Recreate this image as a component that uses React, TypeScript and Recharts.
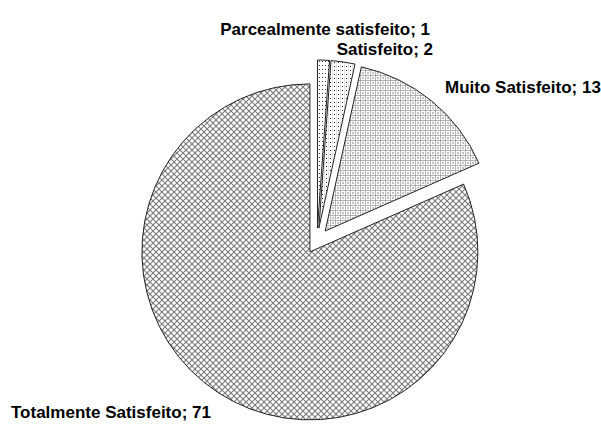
import { PieChart, Pie, Cell } from 'recharts';

const categories = ['Parcealmente satisfeito', 'Satisfeito', 'Muito Satisfeito', 'Totalmente Satisfeito'];
const values = [1, 2, 13, 71];

const patterns = ['dots', 'dotsGrid', 'grid', 'cross'];
const labelPos = [
  { x: 430, y: 35, anchor: 'end' },
  { x: 433, y: 55, anchor: 'end' },
  { x: 445, y: 93, anchor: 'start' },
  { x: 11, y: 418, anchor: 'start' },
];

const data = categories.map((name, i) => ({ name, value: values[i] }));
const total = values.reduce((a, b) => a + b, 0);

const CX = 317;
const CY = 241;
const R = 168;
const EXPLODE = 13;

// mid angle of each slice, clockwise from 12 o'clock, in radians
const midAngles = values.map((v, i) => {
  const before = values.slice(0, i).reduce((a, b) => a + b, 0);
  return ((before + v / 2) / total) * 2 * Math.PI;
});

const App = () => {
  return (
    <div style={{ position: 'absolute', left: 0, top: 0, background: '#fff' }}>
      <PieChart width={601} height={424} margin={{ top: 0, right: 0, bottom: 0, left: 0 }}>
        <defs>
          <pattern id="cross" width="6" height="6" patternUnits="userSpaceOnUse">
            <rect width="6" height="6" fill="#fff" />
            <path d="M0,0 L6,6 M6,0 L0,6" stroke="#7a7a7a" strokeWidth="1.1" />
          </pattern>
          <pattern id="grid" width="5" height="5" patternUnits="userSpaceOnUse">
            <rect width="5" height="5" fill="#fff" />
            <path d="M0,0 L5,0 M0,0 L0,5" stroke="#9a9a9a" strokeWidth="1.4" />
            <rect x="2.5" y="2.5" width="1" height="1" fill="#000" />
          </pattern>
          <pattern id="dotsGrid" width="4" height="4" patternUnits="userSpaceOnUse">
            <rect width="4" height="4" fill="#fff" />
            <path d="M0,0 L0,4" stroke="#c8c8c8" strokeWidth="1" />
            <rect x="2" y="2" width="1" height="1" fill="#222" />
          </pattern>
          <pattern id="dots" width="3" height="4" patternUnits="userSpaceOnUse">
            <rect width="3" height="4" fill="#fff" />
            <rect x="1" y="1" width="1" height="1" fill="#333" />
          </pattern>
        </defs>
        {data.map((_, i) => (
          <Pie
            key={i}
            data={data}
            dataKey="value"
            nameKey="name"
            cx={CX + EXPLODE * Math.sin(midAngles[i])}
            cy={CY - EXPLODE * Math.cos(midAngles[i])}
            innerRadius={0}
            outerRadius={R}
            startAngle={90}
            endAngle={-270}
            isAnimationActive={false}
            labelLine={false}
            label={(p: any) =>
              p.index === i ? (
                <text
                  x={labelPos[i].x}
                  y={labelPos[i].y}
                  textAnchor={labelPos[i].anchor}
                  fontFamily="Liberation Sans, Arial, sans-serif"
                  fontWeight="bold"
                  fontSize={17}
                  fill="#000"
                >
                  {`${categories[i]}; ${values[i]}`}
                </text>
              ) : null
            }
          >
            {data.map((__, j) => (
              <Cell
                key={j}
                fill={j === i ? `url(#${patterns[j]})` : 'none'}
                stroke={j === i ? '#222' : 'none'}
                strokeWidth={1}
              />
            ))}
          </Pie>
        ))}
      </PieChart>
    </div>
  );
};

export default App;
